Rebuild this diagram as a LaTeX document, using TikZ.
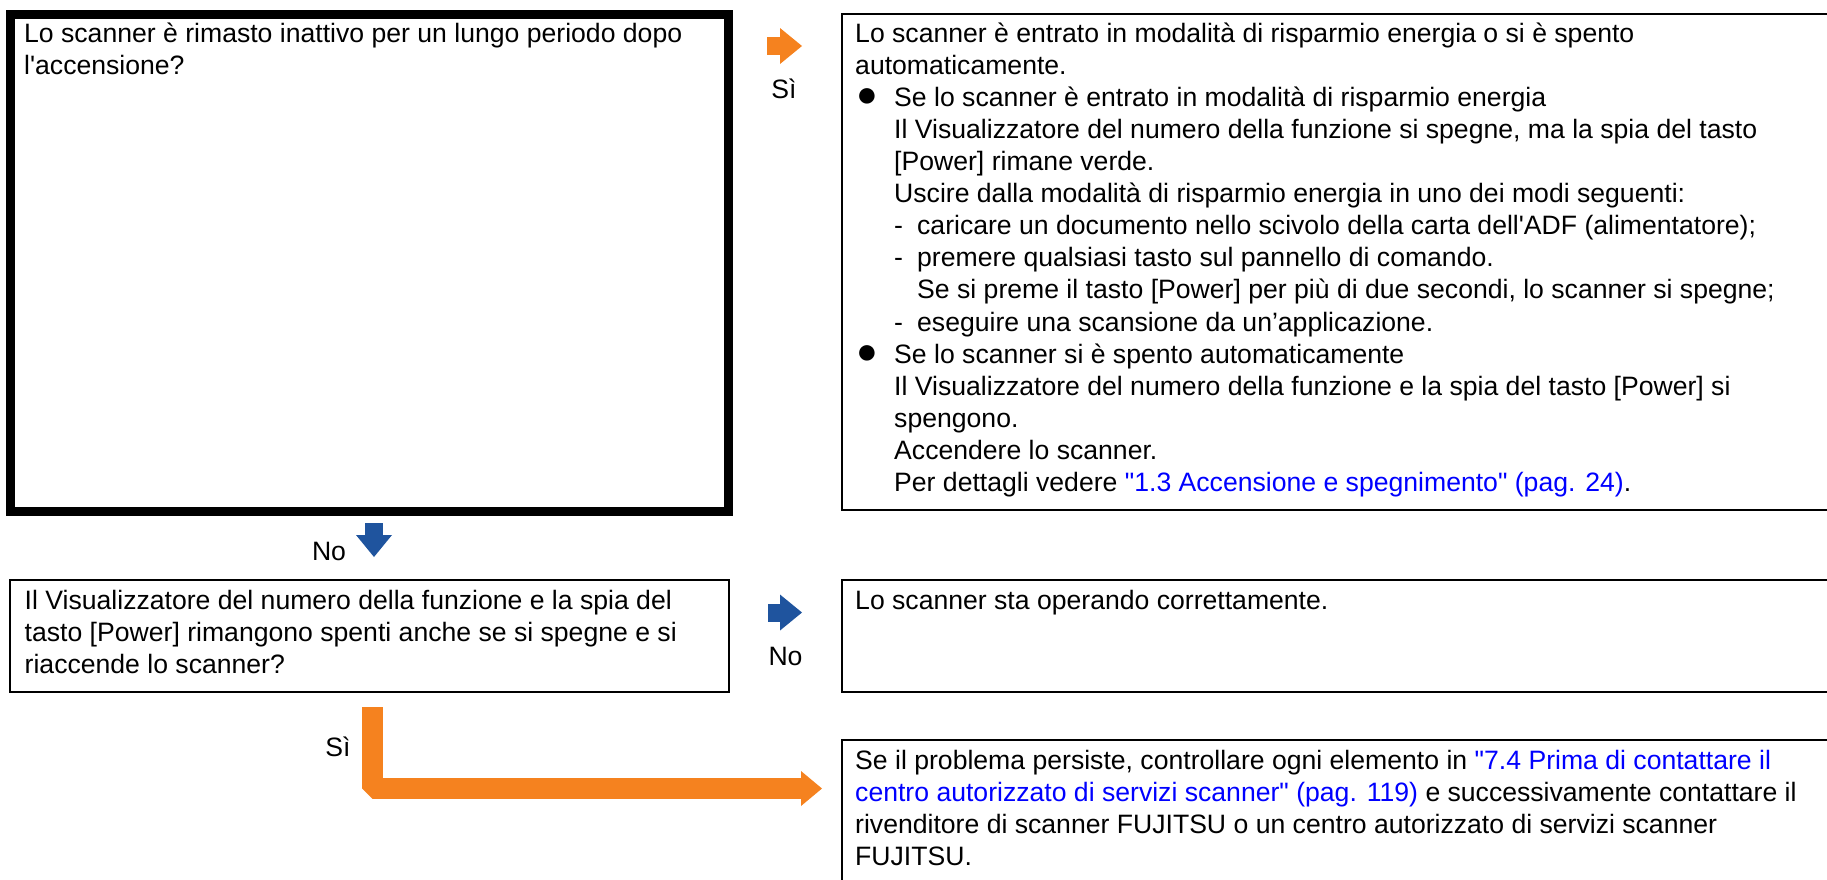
\documentclass[tikz,border=0pt]{standalone}
\usepackage{fontspec}
\setmainfont{Liberation Sans}[Ligatures=TeXOff]
\usetikzlibrary{arrows.meta,positioning}
\definecolor{yesorange}{RGB}{245,130,31}
\definecolor{noblue}{RGB}{31,84,158}
\definecolor{linkblue}{RGB}{0,0,255}
\newcommand{\bulitem}{\makebox[39pt][l]{\hspace*{1pt}{\fontsize{36}{32.1}\selectfont ●}}}
\newcommand{\inda}{\hspace*{39pt}}
\newcommand{\indb}{\hspace*{62pt}}
\newcommand{\dashitem}{\hspace*{39pt}\makebox[23pt][l]{-}}
\newcommand{\lnk}[1]{\textcolor{linkblue}{#1}}
\tikzset{
  qbox/.style={rectangle, draw=black, line width=2.6pt, anchor=north west,
    inner sep=0pt, outer sep=0pt},
  note/.style={anchor=north west, inner sep=0pt, align=left,
    font=\fontsize{26.6}{32.1}\selectfont},
  lbl/.style={inner sep=0pt, font=\fontsize{26.6}{32.1}\selectfont},
  yesarrow/.style={draw=yesorange, line width=18pt,
    -{Triangle[length=22pt, width=36pt, line width=0pt]}},
  noarrow/.style={draw=noblue, line width=18pt,
    -{Triangle[length=22pt, width=36pt, line width=0pt]}},
}

\begin{document}
\begin{tikzpicture}[x=1pt, y=-1pt]
  \clip (0,0) rectangle (1827,879);
  % questions
  \node[qbox, line width=9pt, minimum width=718pt, minimum height=496.5pt] (q1) at (10.5,14.5) {};
  \node[qbox, minimum width=719pt, minimum height=112pt] (q2) at (10,580) {};
  % answers
  \node[qbox, minimum width=1000pt, minimum height=496pt] (a1) at (842,14) {};
  \node[qbox, minimum width=1000pt, minimum height=112pt] (a2) at (842,580) {};
  \node[qbox, minimum width=1000pt, minimum height=200pt] (a3) at (842,740) {};

  \node[note, below right=5pt and 13.5pt of q1.north west] (q1t) {\strut Lo scanner è rimasto inattivo per un lungo periodo dopo\\
    l'accensione?};
  \node[note, below right=6.8pt and 14.5pt of q2.north west] (q2t) {\strut Il Visualizzatore del numero della funzione e la spia del\\
    tasto [Power] rimangono spenti anche se si spegne e si\\
    riaccende lo scanner?};
  \node[note, below right=5.5pt and 13pt of a1.north west] (a1t) {\strut Lo scanner è entrato in modalità di risparmio energia o si è spento\\
    automaticamente.\\
    \bulitem Se lo scanner è entrato in modalità di risparmio energia\\
    \inda Il Visualizzatore del numero della funzione si spegne, ma la spia del tasto\\
    \inda [Power] rimane verde.\\
    \inda Uscire dalla modalità di risparmio energia in uno dei modi seguenti:\\
    \dashitem caricare un documento nello scivolo della carta dell'ADF (alimentatore);\\
    \dashitem premere qualsiasi tasto sul pannello di comando.\\
    \indb Se si preme il tasto [Power] per più di due secondi, lo scanner si spegne;\\
    \dashitem eseguire una scansione da un’applicazione.\\
    \bulitem Se lo scanner si è spento automaticamente\\
    \inda Il Visualizzatore del numero della funzione e la spia del tasto [Power] si\\
    \inda spengono.\\
    \inda Accendere lo scanner.\\
    \inda Per dettagli vedere \lnk{"1.3 Accensione e spegnimento" (pag. 24)}.};
  \node[note, below right=6.5pt and 13pt of a2.north west] (a2t) {\strut Lo scanner sta operando correttamente.};
  \node[note, below right=6.5pt and 13pt of a3.north west] (a3t) {\strut Se il problema persiste, controllare ogni elemento in \lnk{"7.4 Prima di contattare il}\\
    \lnk{centro autorizzato di servizi scanner" (pag. 119)} e successivamente contattare il\\
    rivenditore di scanner FUJITSU o un centro autorizzato di servizi scanner\\
    FUJITSU.};

  % arrows
  \draw[yesarrow] ([xshift=38.5pt, yshift=-31.5pt]q1.north east) -- ++(35,0);
  \node[lbl] (s1) at (784,89) {Sì};
  \draw[noarrow] ([xshift=4.5pt, yshift=-12pt]q1.south) -- ++(0,34);
  \node[lbl] (n1) at (329,551) {No};
  \draw[noarrow] ([xshift=39pt, yshift=-32.5pt]q2.north east) -- ++(34,0);
  \node[lbl] (n2) at (785.5,656.5) {No};
  \draw[yesarrow, line width=21pt, line join=bevel,
    -{Triangle[length=21pt, width=35pt, line width=0pt]}]
    ([xshift=3pt, yshift=-15pt]q2.south) |- ([xshift=-20pt, yshift=-48.5pt]a3.north west);
  \node[lbl] (s2) at (338,747) {Sì};
\end{tikzpicture}
\end{document}
